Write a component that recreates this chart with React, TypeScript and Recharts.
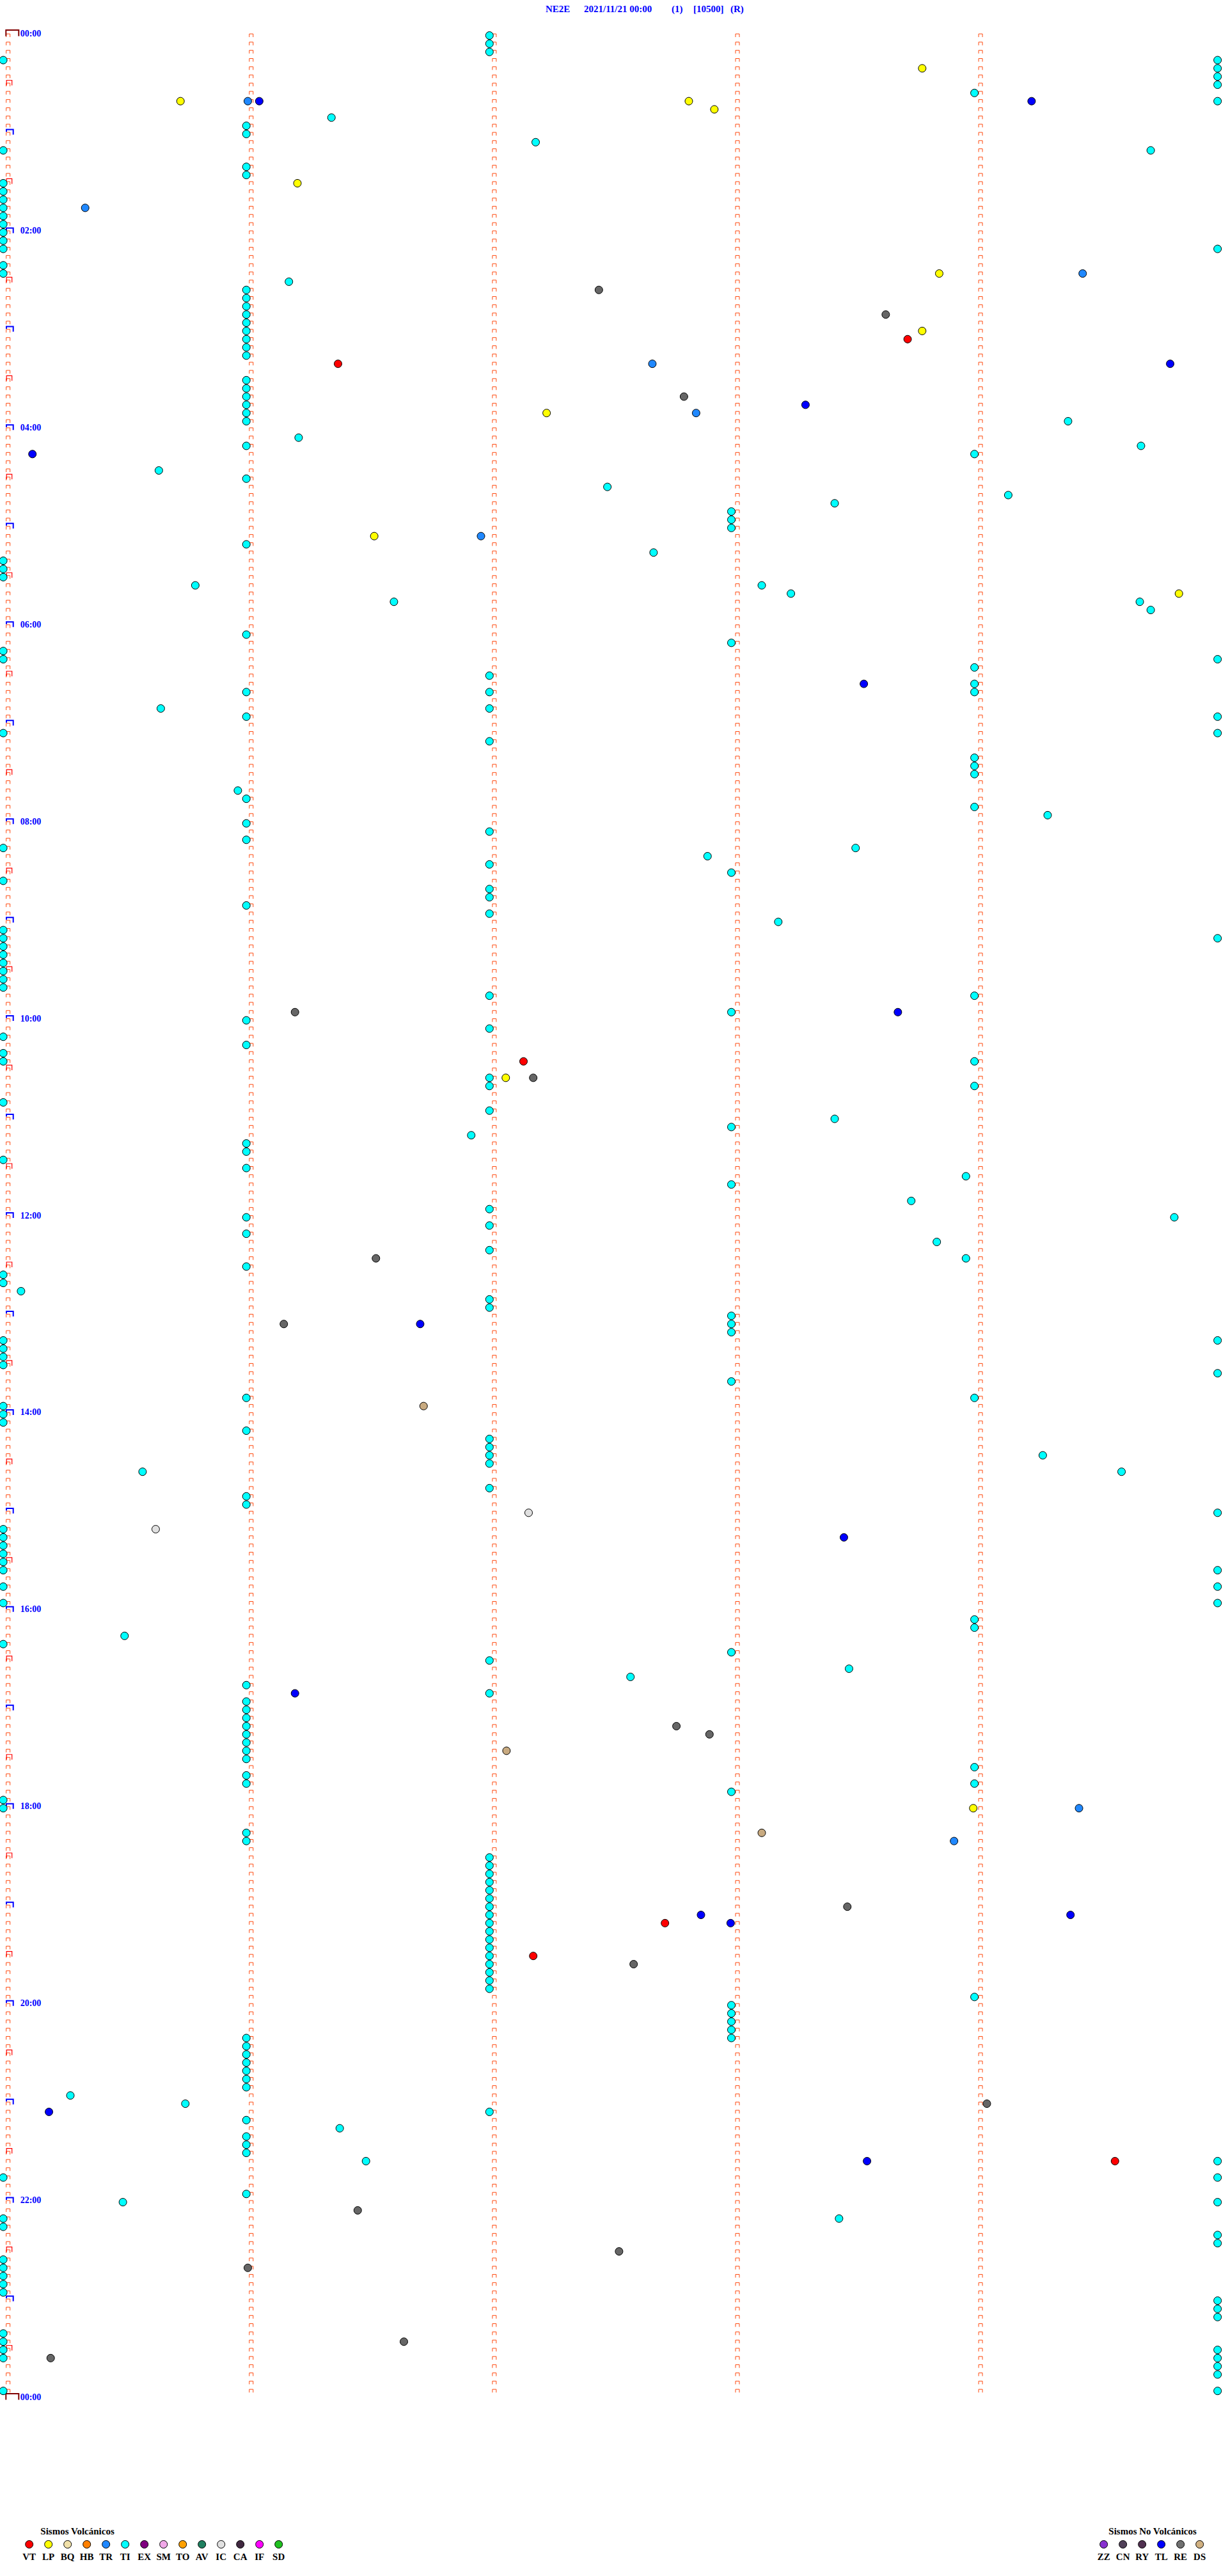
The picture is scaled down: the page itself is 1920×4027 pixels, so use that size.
import React from 'react';
import { ScatterChart, Scatter, XAxis, YAxis } from 'recharts';

// helicorder: 288 rows of 5 minutes, x = minute inside the row
const WIDTH = 1920;
const HEIGHT = 4027;
const ROW_COUNT = 288;
const MINUTE_MARKS = [0, 1, 2, 3, 4];
const HOUR_MARKS = Array.from({ length: 25 }, (_, h) => h);
const TIME_LABELS = ['00:00', '02:00', '04:00', '06:00', '08:00', '10:00', '12:00', '14:00', '16:00', '18:00', '20:00', '22:00', '00:00'];

const TITLE = ['NE2E', '2021/11/21 00:00', '(1)', '[10500]', '(R)'];

// TI events sitting on the minute marks (rows)
const TI_COL0 = [3, 14, 18, 19, 20, 21, 22, 23, 24, 25, 26, 28, 29, 64, 65, 66, 75, 76, 85, 99, 103, 109, 110, 111, 112, 113, 114, 115, 116, 122, 124, 125, 130, 137, 151, 152, 159, 160, 161, 162, 167, 168, 169, 182, 183, 184, 185, 186, 187, 189, 191, 196, 215, 216, 261, 266, 267, 271, 272, 273, 274, 275, 280, 281, 282, 283, 287];
const TI_COL1 = [11, 12, 16, 17, 31, 32, 33, 34, 35, 36, 37, 38, 39, 42, 43, 44, 45, 46, 47, 50, 54, 62, 73, 80, 83, 93, 96, 98, 106, 120, 123, 135, 136, 138, 144, 146, 150, 166, 170, 178, 179, 201, 203, 204, 205, 206, 207, 208, 209, 210, 212, 213, 219, 220, 244, 245, 246, 247, 248, 249, 250, 254, 256, 257, 258, 263];
const TI_COL2 = [0, 1, 2, 78, 80, 82, 86, 97, 101, 104, 105, 107, 117, 121, 127, 128, 131, 143, 145, 148, 154, 155, 171, 172, 173, 174, 177, 198, 202, 222, 223, 224, 225, 226, 227, 228, 229, 230, 231, 232, 233, 234, 235, 236, 237, 238, 253];
const TI_COL3 = [58, 59, 60, 74, 102, 119, 133, 140, 156, 157, 158, 164, 197, 214, 240, 241, 242, 243, 244];
const TI_COL4 = [7, 51, 77, 79, 80, 88, 89, 90, 94, 117, 125, 128, 166, 193, 194, 211, 213, 239];
const TI_COL5 = [3, 4, 5, 6, 8, 26, 76, 83, 85, 110, 159, 163, 180, 187, 189, 191, 259, 261, 264, 268, 269, 276, 277, 278, 282, 283, 284, 285, 287];
// TI events elsewhere: [row, minute]
const TI_FREE: [number, number][] = [
  [10, 1.33], [13, 2.17], [14, 4.7], [30, 1.155], [47, 4.36], [49, 1.195], [50, 4.66], [53, 0.62],
  [55, 2.465], [56, 4.114], [57, 3.4], [63, 2.655], [67, 0.77], [67, 3.1], [68, 3.22], [69, 1.587],
  [69, 4.655], [70, 4.7], [82, 0.628], [92, 0.945], [95, 4.276], [99, 3.486], [100, 2.877], [108, 3.168],
  [132, 3.4], [134, 1.905], [139, 3.94], [142, 3.715], [144, 4.797], [147, 3.82], [149, 3.94], [153, 0.053],
  [173, 4.256], [175, 0.553], [175, 4.58], [195, 0.479], [199, 3.459], [200, 2.56], [251, 0.256],
  [252, 0.729], [255, 1.364], [259, 1.472], [264, 0.472], [266, 3.418],
];
const LP: [number, number][] = [
  [4, 3.76], [8, 0.709], [8, 2.8], [9, 2.905], [18, 1.19], [29, 3.83], [36, 3.76], [46, 2.215],
  [61, 1.506], [68, 4.816], [127, 2.047], [216, 3.97],
];
const TR: [number, number][] = [
  [8, 0.986], [21, 0.317], [29, 4.42], [40, 2.65], [46, 2.83], [61, 1.945], [216, 4.405], [220, 3.891],
];
const TL: [number, number][] = [
  [8, 1.033], [8, 4.21], [40, 4.78], [45, 3.28], [51, 0.1], [79, 3.52], [119, 3.66], [157, 1.695],
  [183, 3.438], [202, 1.18], [229, 2.85], [229, 4.37], [230, 2.972], [253, 0.168], [259, 3.533],
];
const VT: [number, number][] = [[37, 3.7], [40, 1.357], [125, 2.12], [230, 2.702], [234, 2.16], [259, 4.553]];
const RE: [number, number][] = [
  [31, 2.43], [34, 3.61], [44, 2.78], [119, 1.18], [127, 2.16], [149, 1.513], [157, 1.134], [206, 2.749],
  [207, 2.885], [228, 3.452], [235, 2.573], [252, 4.026], [265, 1.438], [270, 2.513], [272, 0.986],
  [281, 1.628], [283, 0.175],
];
const DS: [number, number][] = [[167, 1.709], [209, 2.05], [219, 3.1]];
const IC: [number, number][] = [[180, 2.141], [182, 0.607]];

const VOLCANIC = [
  ['VT', '#ff0000'], ['LP', '#ffff00'], ['BQ', '#f0e0a8'], ['HB', '#ff8000'], ['TR', '#2088ff'],
  ['TI', '#00ffff'], ['EX', '#800080'], ['SM', '#f0a8e8'], ['TO', '#ffa000'], ['AV', '#208060'],
  ['IC', '#e0e0e0'], ['CA', '#402840'], ['IF', '#ff00ff'], ['SD', '#20c020'],
];
const NON_VOLCANIC = [
  ['ZZ', '#8830d0'], ['CN', '#504058'], ['RY', '#503050'], ['TL', '#0000ff'], ['RE', '#707070'], ['DS', '#d0b080'],
];

const color = (code: string) => [...VOLCANIC, ...NON_VOLCANIC].find((c) => c[0] === code)![1];

const pts = (list: [number, number][]) => list.map(([row, m]) => ({ row, m }));
const onColumn = (rows: number[], m: number) => rows.map((row) => ({ row, m }));

const tiData = [
  ...onColumn(TI_COL0, -0.02),
  ...onColumn(TI_COL1, 0.98),
  ...onColumn(TI_COL2, 1.98),
  ...onColumn(TI_COL3, 2.975),
  ...onColumn(TI_COL4, 3.975),
  ...onColumn(TI_COL5, 4.975),
  ...pts(TI_FREE),
];

const markerData = Array.from({ length: ROW_COUNT }, (_, row) => MINUTE_MARKS.map((m) => ({ row, m }))).flat();
const hourData = HOUR_MARKS.map((h) => ({ row: h * 12, m: 0, h }));
const halfHourData = HOUR_MARKS.slice(0, 24).map((h) => ({ row: h * 12 + 6, m: 0 }));

const FONT = '"Liberation Serif", "Times New Roman", serif';

const dot = (fill: string) => (p: any) => (
  <circle cx={p.cx} cy={p.cy} r={6} fill={fill} stroke="#000" strokeWidth={1} />
);

const rowMarker = (p: any) => (
  <path d={`M${p.cx - 3},${p.cy + 2.5}V${p.cy - 2.5}H${p.cx + 3}V${p.cy + 2.5}`} fill="none" stroke="#ff4a10" strokeWidth={1} />
);

const halfMarker = (p: any) => (
  <path d={`M${p.cx - 2.5},${p.cy + 1}V${p.cy - 7}H${p.cx + 6}V${p.cy + 1}`} fill="none" stroke="#ff0000" strokeWidth={1.2} />
);

const hourMarker = (p: any) => {
  const h = p.payload.h;
  const edge = h === 0 || h === 24;
  const label = h % 2 === 0 ? TIME_LABELS[h / 2] : null;
  return (
    <g>
      {edge ? (
        <path d={`M${p.cx - 3.4},${p.cy + 1}V${p.cy - 8.5}H${p.cx + 16.6}V${p.cy + 1}`} fill="none" stroke="#800000" strokeWidth={2} />
      ) : (
        <path d={`M${p.cx - 2.7},${p.cy - 3.5}V${p.cy - 7}H${p.cx + 8}V${p.cy + 1}`} fill="none" stroke="#0000ff" strokeWidth={2} />
      )}
      {label && (
        <text x={p.cx + 19} y={p.cy + 1.5} fill="#0000ff" fontFamily={FONT} fontWeight="bold" fontSize={14}>
          {label}
        </text>
      )}
    </g>
  );
};

function LegendBlock({ title, items, x0, titleX }: { title: string; items: string[][]; x0: number; titleX: number }) {
  return (
    <g fontFamily={FONT} fontWeight="bold">
      <text x={titleX} y={3962} fontSize={15} fill="#000">{title}</text>
      {items.map(([code, fill], i) => (
        <g key={code}>
          <circle cx={x0 + i * 30} cy={3977.5} r={6} fill={fill} stroke="#000" strokeWidth={1} />
          <text x={x0 + i * 30} y={4002} fontSize={15} textAnchor="middle" fill="#000">{code}</text>
        </g>
      ))}
    </g>
  );
}

export default function App() {
  return (
    <div style={{ position: 'absolute', left: 0, top: 0, width: WIDTH, height: HEIGHT, background: '#fff' }}>
      <ScatterChart width={WIDTH} height={HEIGHT} margin={{ top: 55.5, right: 6.8, bottom: 276.5, left: 1.3 }}>
        <XAxis type="number" dataKey="m" domain={[-0.03, 5]} hide />
        <YAxis type="number" dataKey="row" domain={[0, ROW_COUNT]} reversed hide />
        <Scatter data={markerData} shape={rowMarker} isAnimationActive={false} />
        <Scatter data={halfHourData} shape={halfMarker} isAnimationActive={false} />
        <Scatter data={hourData} shape={hourMarker} isAnimationActive={false} />
        <Scatter data={tiData} shape={dot(color('TI'))} isAnimationActive={false} />
        <Scatter data={pts(LP)} shape={dot(color('LP'))} isAnimationActive={false} />
        <Scatter data={pts(TR)} shape={dot(color('TR'))} isAnimationActive={false} />
        <Scatter data={pts(TL)} shape={dot(color('TL'))} isAnimationActive={false} />
        <Scatter data={pts(VT)} shape={dot(color('VT'))} isAnimationActive={false} />
        <Scatter data={pts(RE)} shape={dot('#666666')} isAnimationActive={false} />
        <Scatter data={pts(DS)} shape={dot('#c8aa80')} isAnimationActive={false} />
        <Scatter data={pts(IC)} shape={dot(color('IC'))} isAnimationActive={false} />
      </ScatterChart>
      <svg width={WIDTH} height={HEIGHT} style={{ position: 'absolute', left: 0, top: 0, pointerEvents: 'none' }}>
        <g fontFamily={FONT} fontWeight="bold" fontSize={15} fill="#0000ff">
          <text x={853} y={19}>{TITLE[0]}</text>
          <text x={913} y={19}>{TITLE[1]}</text>
          <text x={1050} y={19}>{TITLE[2]}</text>
          <text x={1084} y={19}>{TITLE[3]}</text>
          <text x={1142} y={19}>{TITLE[4]}</text>
        </g>
        <LegendBlock title="Sismos Volcánicos" items={VOLCANIC} x0={45.7} titleX={63.3} />
        <LegendBlock title="Sismos No Volcánicos" items={NON_VOLCANIC} x0={1725.7} titleX={1733.3} />
      </svg>
    </div>
  );
}
